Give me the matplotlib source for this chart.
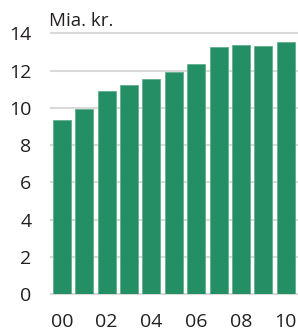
import matplotlib
matplotlib.use("Agg")
import matplotlib.pyplot as plt
import numpy as np

# data
years = ["00", "01", "02", "03", "04", "05", "06", "07", "08", "09", "10"]
values = [9.35, 9.95, 10.88, 11.22, 11.52, 11.9, 12.36, 13.27, 13.38, 13.34, 13.52]
yticks = [0, 2, 4, 6, 8, 10, 12, 14]
unit_label = "Mia. kr."

plt.rcParams["font.family"] = ["Open Sans", "DejaVu Sans"]

fig = plt.figure(figsize=(2.98, 3.36), dpi=100)
ax = fig.add_axes([0.171, 0.125, 0.829, 0.776])

x = np.arange(len(years))
ax.bar(x, values, width=0.8, color="#248e64", edgecolor="#5fb08e", linewidth=0.6, zorder=3)

ax.set_xlim(-0.49, 10.55)
ax.set_ylim(0, 14)
ax.set_yticks(yticks)
ax.set_yticklabels([str(t) for t in yticks])
ax.set_xticks(x[::2])
ax.set_xticklabels(years[::2])

ax.grid(axis="y", color="#d9d9d9", linewidth=1.5, zorder=0)
for ln in ax.get_ygridlines():
    ln.set_clip_on(False)
for s in ax.spines.values():
    s.set_visible(False)
ax.tick_params(axis="both", length=0, labelsize=14, colors="#231f20")
ax.tick_params(axis="y", pad=14)
ax.tick_params(axis="x", pad=14)

fig.text(0.166, 0.922, unit_label, fontsize=13.5, color="#231f20", ha="left", va="baseline")

fig.savefig("out.png", dpi=100)
